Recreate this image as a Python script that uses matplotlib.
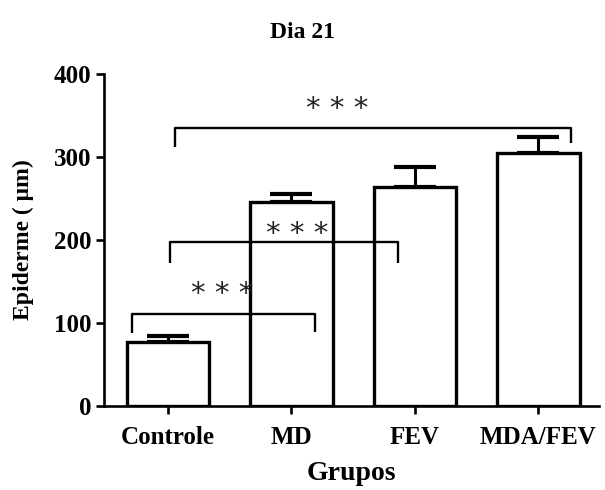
import numpy as np
import matplotlib
matplotlib.use("Agg")
import matplotlib.pyplot as plt

# data (day 21)
groups = ["Controle", "MD", "FEV", "MDA/FEV"]
epiderme = [77, 246, 264, 305]
err_up = [7, 9, 24, 19]

# significance brackets: (x_left, x_right, y_bar, y_drop_left, y_drop_right, star_x, star_y)
brackets = [
    (-0.29, 1.19, 111, 88, 89, 0.44, 135),
    (0.02, 1.86, 198, 172, 173, 1.05, 207),
    (0.06, 3.26, 335, 312, 317, 1.37, 358),
]
stars = "* * *"

plt.rcParams['font.family'] = ['Liberation Serif', 'DejaVu Serif']

fig = plt.figure(figsize=(6.05, 4.9), dpi=100)
ax = fig.add_axes([0.172, 0.171, 0.818, 0.678])

x = np.arange(len(groups))
ax.bar(x, epiderme, width=0.67, color='white', edgecolor='black', linewidth=2.4, zorder=2)
ax.errorbar(x, epiderme, yerr=[np.zeros(len(err_up)), err_up], fmt='none',
            ecolor='black', elinewidth=2.2, capsize=15, capthick=3.0, zorder=1)

for xl, xr, yb, dl, dr, sx, sy in brackets:
    ax.plot([xl, xl, xr, xr], [dl, yb, yb, dr], color='black', lw=1.7,
            solid_capstyle='butt', zorder=3)
    ax.text(sx, sy, stars, ha='center', va='center', fontsize=21,
            family='DejaVu Sans', color='#222222', zorder=4)

ax.set_xlim(-0.517, 3.49)
ax.set_ylim(0, 400)
ax.set_yticks([0, 100, 200, 300, 400])
ax.set_xticks(x)
ax.set_xticklabels(groups)

for s in ['top', 'right']:
    ax.spines[s].set_visible(False)
for s in ['left', 'bottom']:
    ax.spines[s].set_linewidth(1.9)
ax.tick_params(axis='both', width=1.9, length=6, direction='out', labelsize=18)
ax.tick_params(axis='x', pad=8)
ax.tick_params(axis='y', pad=3)
for lab in ax.get_xticklabels() + ax.get_yticklabels():
    lab.set_fontweight('bold')

ax.set_xlabel("Grupos", fontsize=20, fontweight='bold', labelpad=9)
ax.set_ylabel("Epiderme ( \u03bcm)", fontsize=17, fontweight='bold', labelpad=14)
fig.text(0.5, 1 - 33 / 490, "Dia 21", ha='center', va='center', fontsize=17,
         fontweight='bold')

fig.savefig("out.png", dpi=100)
